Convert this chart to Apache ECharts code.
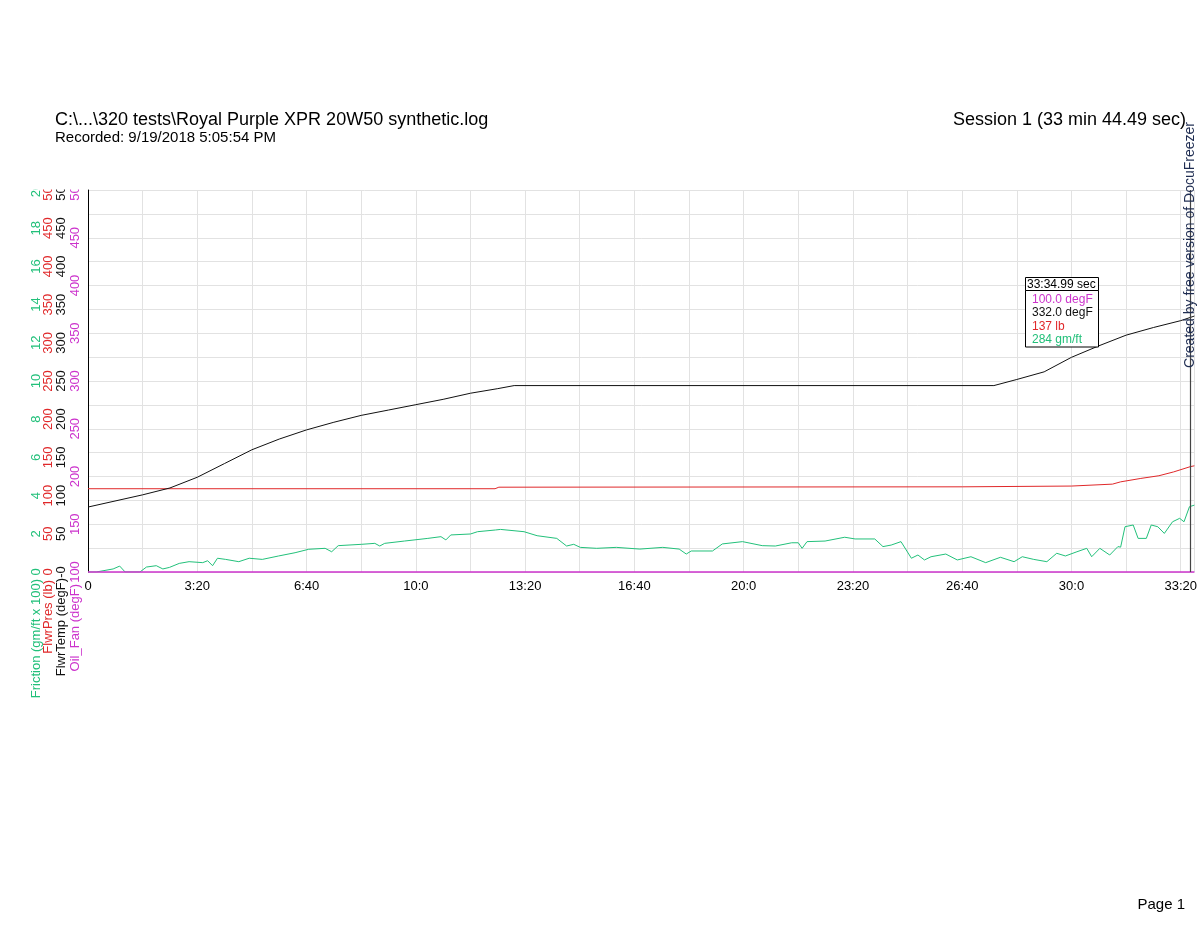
<!DOCTYPE html>
<html><head><meta charset="utf-8">
<script src="https://cdn.jsdelivr.net/npm/echarts@6/dist/echarts.min.js"></script>
<style>html,body{margin:0;padding:0;background:#fff}#c{width:1200px;height:927px}</style>
</head><body><div id="c"></div>
<script>
// ---- data (time in seconds) ----
const fricT = [0,15,46,58,68,95,107,125,137,149,167,185,210,219,228,237,252,276,295,319,349,379,404,434,446,458,501,525,534,543,579,622,646,655,664,700,713,746,755,798,822,858,876,889,901,931,967,1010,1052,1082,1095,1104,1143,1161,1198,1234,1258,1288,1300,1307,1316,1349,1385,1404,1440,1455,1470,1488,1507,1519,1531,1543,1570,1591,1616,1643,1670,1695,1710,1731,1755,1773,1789,1810,1828,1837,1852,1870,1885,1890,1898,1913,1922,1937,1946,1958,1970,1985,1998,2006,2016,2025];
const fricV = [0,0,0.16,0.31,0,0,0.26,0.33,0.16,0.24,0.45,0.54,0.49,0.59,0.33,0.72,0.66,0.54,0.72,0.66,0.84,1.01,1.19,1.24,1.06,1.38,1.45,1.5,1.36,1.5,1.62,1.76,1.85,1.68,1.94,1.99,2.11,2.2,2.23,2.11,1.9,1.76,1.36,1.45,1.29,1.24,1.29,1.2,1.29,1.2,0.94,1.1,1.1,1.47,1.59,1.38,1.36,1.53,1.53,1.24,1.59,1.62,1.82,1.73,1.73,1.33,1.41,1.59,0.72,0.89,0.63,0.8,0.94,0.63,0.8,0.49,0.77,0.54,0.8,0.66,0.54,0.98,0.84,1.06,1.24,0.8,1.24,0.89,1.33,1.3,2.37,2.46,1.76,1.76,2.46,2.37,2.02,2.63,2.81,2.63,3.42,3.5];
const presT = [0,745,752,1600,1800,1875,1890,1927,1960,1987,2018,2025];
const presV = [109,109,111,111.5,112.5,115,118,122.5,126,131,138,139];
const tempT = [0,100,150,200,250,300,350,400,450,500,550,600,650,700,750,780,1658,1700,1750,1800,1850,1900,1950,2000,2025];
const tempV = [85,101,110,124,142,160,174,186,196,205,212,219,226,234,240,244,244,252,262,281,296,310,320,329,335];
const fanT = [0,2025];
const fanV = [100,100];
const cursorT = 2018;
const tipHeader = '33:34.99 sec';
const tipLines = ['100.0 degF','332.0 degF','137 lb','284 gm/ft'];
const titleMain = 'C:\\...\\320 tests\\Royal Purple XPR 20W50 synthetic.log';
const titleSub = 'Recorded: 9/19/2018 5:05:54 PM';
const titleRight = 'Session 1 (33 min 44.49 sec)';
const pageText = 'Page 1';
const watermark = 'Created by free version of DocuFreezer';
const axisNames = ['Friction (gm/ft x 100)','FlwrPres (lb)','FlwrTemp (degF)','Oil_Fan (degF)'];

const C_FRIC = '#22c07a', C_PRES = '#e0282a', C_TEMP = '#111111', C_FAN = '#cc33cc';
const FONT = '"Liberation Sans", Arial, Helvetica, sans-serif';
const zip = (t, v) => t.map((x, i) => [x, v[i]]);

function yAx(color, min, max, interval, offset, fmt) {
  return {
    type: 'value', position: 'left', min, max, interval, offset,
    axisLine: {show: false}, axisTick: {show: false}, splitLine: {show: false},
    axisLabel: {rotate: 90, color, fontSize: 13, margin: 0, verticalAlign: 'middle', fontFamily: FONT,
      showMinLabel: true, showMaxLabel: true, formatter: fmt}
  };
}
function nameText(text, color, x, y) {
  return {type: 'text', z: 101, x, y, rotation: Math.PI / 2,
    style: {text, fontSize: 13, fontFamily: FONT, fill: color, align: 'right', verticalAlign: 'middle'}};
}

const chart = echarts.init(document.getElementById('c'));
chart.setOption({
  animation: false,
  backgroundColor: '#fff',
  textStyle: {fontFamily: FONT},
  grid: {left: 88, right: 0, top: 190, bottom: 355, containLabel: false},
  xAxis: {
    type: 'value', min: 0, max: 2025, interval: 100,
    axisLine: {show: false}, axisTick: {show: false},
    splitLine: {show: true, lineStyle: {color: '#e2e2e2', width: 1}},
    axisLabel: {color: '#000', fontSize: 13, margin: 8, fontFamily: FONT, showMaxLabel: false,
      formatter: v => (v % 200 === 0 ? (v === 0 ? '0' : Math.floor(v / 60) + ':' + (v % 60)) : '')}
  },
  yAxis: [
    yAx(C_FRIC, 0, 20, 2, 52),
    yAx(C_PRES, 0, 500, 50, 40),
    yAx(C_TEMP, 0, 500, 50, 26.5, v => (v === 0 ? '-0' : String(v))),
    yAx(C_FAN, 100, 500, 50, 13),
    {type: 'value', position: 'left', min: 0, max: 16, interval: 1, offset: 0,
     axisLine: {show: true, lineStyle: {color: '#000', width: 1}}, axisTick: {show: false},
     axisLabel: {show: false}, splitLine: {show: true, lineStyle: {color: '#e2e2e2', width: 1}}}
  ],
  series: [
    {type: 'line', yAxisIndex: 0, data: zip(fricT, fricV), symbol: 'none',
     lineStyle: {color: C_FRIC, width: 1}, itemStyle: {color: C_FRIC}},
    {type: 'line', yAxisIndex: 1, data: zip(presT, presV), symbol: 'none',
     lineStyle: {color: C_PRES, width: 1}, itemStyle: {color: C_PRES}},
    {type: 'line', yAxisIndex: 2, data: zip(tempT, tempV), symbol: 'none',
     lineStyle: {color: C_TEMP, width: 1}, itemStyle: {color: C_TEMP},
     markLine: {silent: true, symbol: ['none', 'none'], label: {show: false},
       lineStyle: {color: '#444', width: 1.2, type: 'solid'}, data: [{xAxis: cursorT}]}},
    {type: 'line', yAxisIndex: 3, data: zip(fanT, fanV), symbol: 'none', clip: false,
     lineStyle: {color: C_FAN, width: 1.5}, itemStyle: {color: C_FAN}}
  ],
  graphic: [
    {type: 'rect', z: 100, shape: {x: 0, y: 150, width: 87, height: 39.5}, style: {fill: '#fff'}},
    nameText(axisNames[0], C_FRIC, 36, 579),
    nameText(axisNames[1], C_PRES, 48, 580),
    nameText(axisNames[2], C_TEMP, 61.5, 578),
    nameText(axisNames[3], C_FAN, 75, 584),
    {type: 'text', z: 101, x: 55, y: 120, style: {text: titleMain, fontSize: 18, fontFamily: FONT, fill: '#000', align: 'left', verticalAlign: 'middle'}},
    {type: 'text', z: 101, x: 55, y: 137.5, style: {text: titleSub, fontSize: 15, fontFamily: FONT, fill: '#000', align: 'left', verticalAlign: 'middle'}},
    {type: 'text', z: 101, x: 1186, y: 120, style: {text: titleRight, fontSize: 18, fontFamily: FONT, fill: '#000', align: 'right', verticalAlign: 'middle'}},
    {type: 'text', z: 101, x: 1185, y: 905, style: {text: pageText, fontSize: 15, fontFamily: FONT, fill: '#000', align: 'right', verticalAlign: 'middle'}},
    {type: 'text', z: 101, x: 1190, y: 245, rotation: Math.PI / 2, style: {text: watermark, fontSize: 14, fontFamily: FONT, fill: '#1f2d52', align: 'center', verticalAlign: 'middle'}},
    {type: 'rect', z: 102, shape: {x: 1025.5, y: 290.5, width: 73, height: 56.5}, style: {fill: '#fff', stroke: '#000', lineWidth: 1}},
    {type: 'rect', z: 102, shape: {x: 1025.5, y: 277.5, width: 73, height: 13}, style: {fill: '#fff', stroke: '#000', lineWidth: 1}},
    {type: 'text', z: 103, x: 1027, y: 284.5, style: {text: tipHeader, fontSize: 12, fontFamily: FONT, fill: '#000', align: 'left', verticalAlign: 'middle'}},
    {type: 'text', z: 103, x: 1032, y: 299.5, style: {text: tipLines[0], fontSize: 12, fontFamily: FONT, fill: C_FAN, align: 'left', verticalAlign: 'middle'}},
    {type: 'text', z: 103, x: 1032, y: 313, style: {text: tipLines[1], fontSize: 12, fontFamily: FONT, fill: C_TEMP, align: 'left', verticalAlign: 'middle'}},
    {type: 'text', z: 103, x: 1032, y: 326.5, style: {text: tipLines[2], fontSize: 12, fontFamily: FONT, fill: C_PRES, align: 'left', verticalAlign: 'middle'}},
    {type: 'text', z: 103, x: 1032, y: 340, style: {text: tipLines[3], fontSize: 12, fontFamily: FONT, fill: C_FRIC, align: 'left', verticalAlign: 'middle'}}
  ]
});
</script>
</body></html>
